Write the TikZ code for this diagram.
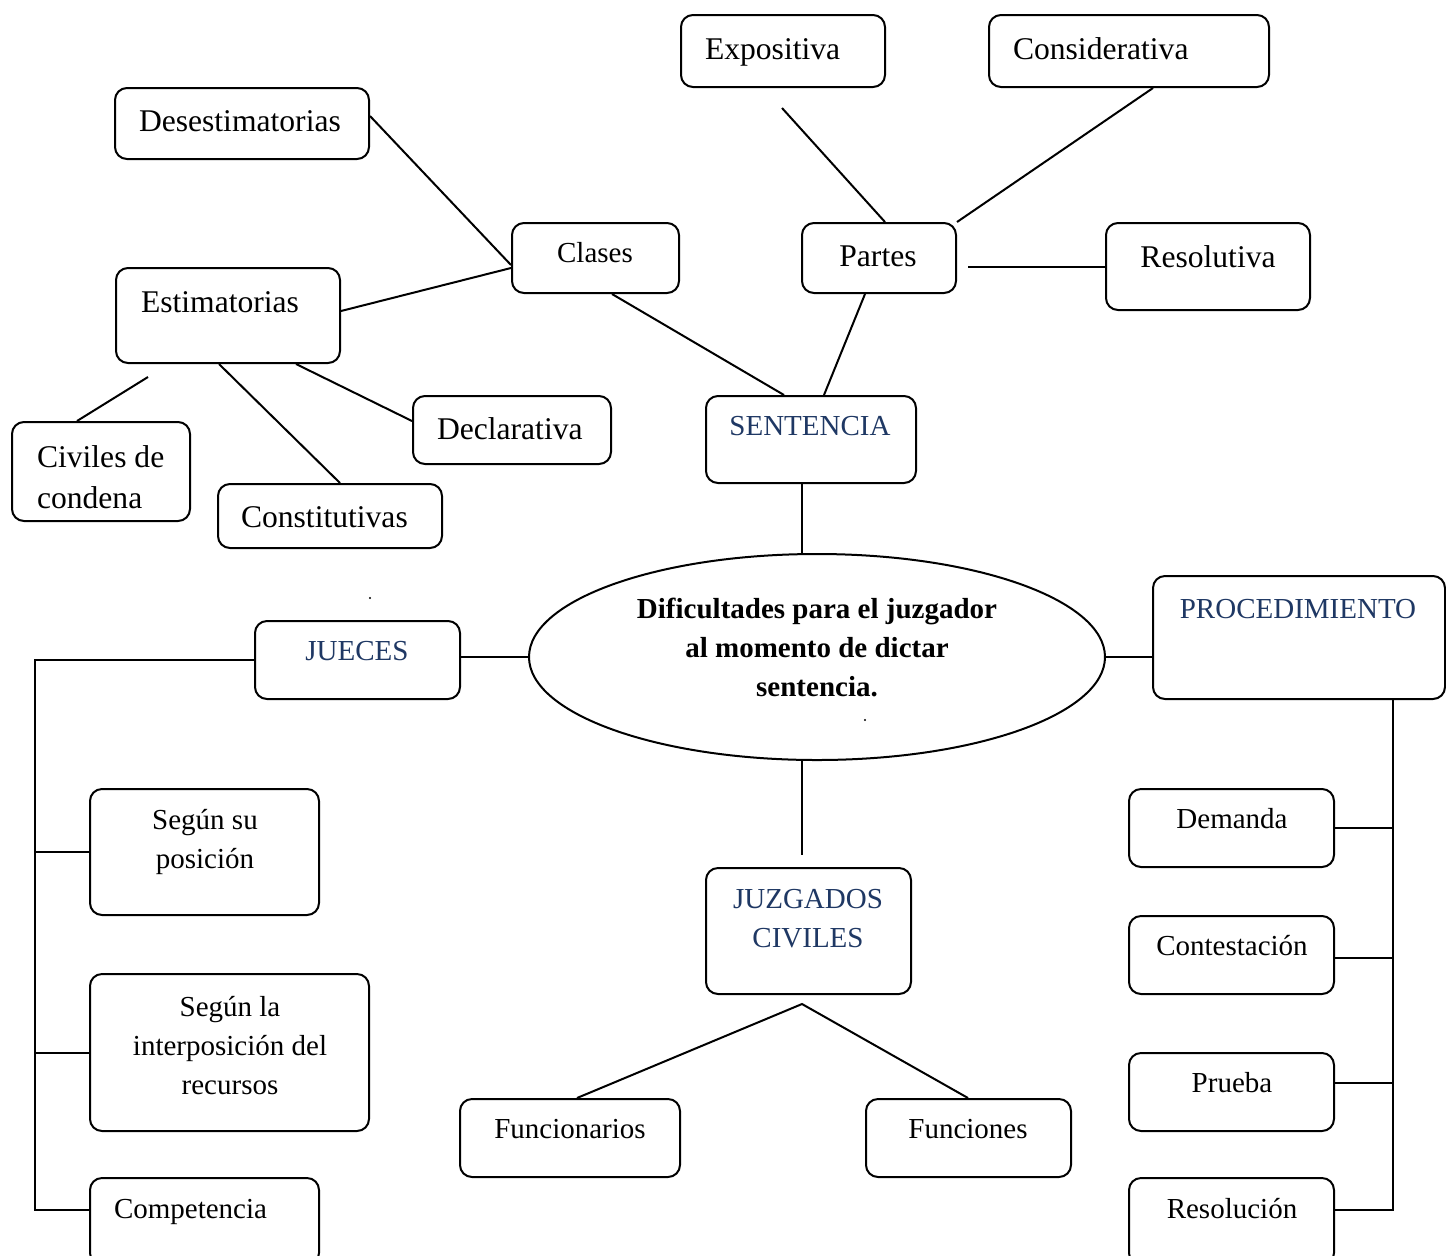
\documentclass[tikz,border=0pt]{standalone}
\usepackage{fontspec}
\setmainfont{Liberation Serif}
\usetikzlibrary{fit,shapes.geometric,calc}
\definecolor{navy}{HTML}{1F3864}
\begin{document}
\begin{tikzpicture}[x=0.5pt,y=-0.5pt,line width=1pt,
  box/.style={draw,rounded corners=6pt,inner sep=0pt},
  bt/.style={anchor=base,inner sep=0pt,font=\fontsize{15.8}{19}\selectfont},
  st/.style={anchor=base,inner sep=0pt,font=\fontsize{14.5}{18}\selectfont},
  bl/.style={text=navy}]
\useasboundingbox[fill=white] (0,0) rectangle (1446,1255);
% boxes
\node[box,fit={(681,15) (885,87)}] (expo) {};
\node[box,fit={(989,15) (1269,87)}] (consid) {};
\node[box,fit={(115,88) (369,159)}] (deses) {};
\node[box,fit={(512,223) (679,293)}] (clases) {};
\node[box,fit={(802,223) (956,293)}] (partes) {};
\node[box,fit={(1106,223) (1310,310)}] (resol) {};
\node[box,fit={(116,268) (340,363)}] (estim) {};
\node[box,fit={(413,396) (611,464)}] (decl) {};
\node[box,fit={(706,396) (916,483)}] (sent) {};
\node[box,fit={(12,422) (190,521)}] (civ) {};
\node[box,fit={(218,484) (442,548)}] (const) {};
\node[box,fit={(255,621) (460,699)}] (jueces) {};
\node[box,fit={(1153,576) (1445,699)}] (proc) {};
\node[box,fit={(90,789) (319,915)}] (seg1) {};
\node[box,fit={(90,974) (369,1131)}] (seg2) {};
\node[box,fit={(90,1178) (319,1265)}] (comp) {};
\node[box,fit={(706,868) (911,994)}] (jz) {};
\node[box,fit={(460,1099) (680,1177)}] (funcs) {};
\node[box,fit={(866,1099) (1071,1177)}] (funcn) {};
\node[box,fit={(1129,789) (1334,867)}] (dem) {};
\node[box,fit={(1129,916) (1334,994)}] (cont) {};
\node[box,fit={(1129,1053) (1334,1131)}] (prue) {};
\node[box,fit={(1129,1178) (1334,1265)}] (resn) {};
\node[draw,ellipse,minimum width=288pt,minimum height=103pt,inner sep=0pt] (ell) at (817,657) {};
% texts
\node[bt,anchor=base west] (t-expo) at (704,59) {Expositiva};
\node[bt,anchor=base west] (t-consid) at (1012,59) {Considerativa};
\node[bt,anchor=base west] (t-deses) at (138,131) {Desestimatorias};
\node[st] (t-clases) at (595,262) {Clases};
\node[bt] (t-partes) at (878,266) {Partes};
\node[bt] (t-resol) at (1208,267) {Resolutiva};
\node[bt,anchor=base west] (t-estim) at (140,312) {Estimatorias};
\node[bt,anchor=base west] (t-decl) at (436,439) {Declarativa};
\node[st,bl] (t-sent) at (810,435) {SENTENCIA};
\node[bt,anchor=base west] (t-civ1) at (36,467) {Civiles de};
\node[bt,anchor=base west] (t-civ2) at (36,508) {condena};
\node[bt,anchor=base west] (t-const) at (240,527) {Constitutivas};
\node[st,font=\fontsize{14.5}{18}\selectfont\bfseries] (t-ell1) at (817,618) {Dificultades para el juzgador};
\node[st,font=\fontsize{14.5}{18}\selectfont\bfseries] (t-ell2) at (817,657) {al momento de dictar};
\node[st,font=\fontsize{14.5}{18}\selectfont\bfseries] (t-ell3) at (817,696) {sentencia.};
\node[st,bl] (t-jueces) at (357,660) {JUECES};
\node[st,bl] (t-proc) at (1298,618) {PROCEDIMIENTO};
\node[st] (t-seg1a) at (205,829) {Según su};
\node[st] (t-seg1b) at (205,868) {posición};
\node[st] (t-seg2a) at (230,1016) {Según la};
\node[st] (t-seg2b) at (230,1055) {interposición del};
\node[st] (t-seg2c) at (230,1094) {recursos};
\node[st,anchor=base west] (t-comp) at (113,1218) {Competencia};
\node[st,bl] (t-jz1) at (808,908) {JUZGADOS};
\node[st,bl] (t-jz2) at (808,947) {CIVILES};
\node[st] (t-funcs) at (570,1138) {Funcionarios};
\node[st] (t-funcn) at (968,1138) {Funciones};
\node[st] (t-dem) at (1232,828) {Demanda};
\node[st] (t-cont) at (1232,955) {Contestación};
\node[st] (t-prue) at (1232,1092) {Prueba};
\node[st] (t-resn) at (1232,1218) {Resolución};
% free ends
\coordinate (expoend) at (782,108);
\coordinate (partend) at (968,267);
\coordinate (civend) at (148,377);
\coordinate (jzend) at (802,855);
\coordinate (apex) at (802,1004);
\coordinate (jbus) at (35,1210);
\coordinate (pbus) at (1393,1210);
% connectors
\draw (deses.east |- 0,116) -- (clases.west |- 0,265);
\draw (estim.east |- 0,311) -- (clases.west |- 0,268);
\draw (clases.south -| 612,0) -- (sent.north -| 784,0);
\draw (partes.south -| 865,0) -- (sent.north -| 824,0);
\draw (expoend) -- (partes.north -| 885,0);
\draw (consid.south -| 1153,0) -- (partes.north east);
\draw (partend) -- (resol.west |- partend);
\draw (civend) -- (civ.north -| 77,0);
\draw (estim.south -| 219,0) -- (const.north -| 340,0);
\draw (estim.south -| 296,0) -- (decl.west |- 0,421);
\draw (sent.south -| 802,0) -- (ell.north -| 802,0);
\draw (ell.west) -- (ell.west -| jueces.east);
\draw (jueces.west) -| (jbus) -- (comp.west |- jbus);
\draw (seg1.west) -- (seg1.west -| jbus);
\draw (seg2.west) -- (seg2.west -| jbus);
\draw (ell.east) -- (ell.east -| proc.west);
\draw (proc.south -| pbus) -- (pbus) -- (resn.east |- pbus);
\draw (dem.east) -- (dem.east -| pbus);
\draw (cont.east |- 0,958) -- (pbus |- 0,958);
\draw (prue.east |- 0,1083) -- (pbus |- 0,1083);
\draw (ell.south -| 802,0) -- (jzend);
\draw (funcs.north -| 577,0) -- (apex) -- (funcn.north -| 968,0);
% stray dots
\fill (370,598) circle (1.2);
\fill (865,720) circle (1.2);
\end{tikzpicture}
\end{document}
